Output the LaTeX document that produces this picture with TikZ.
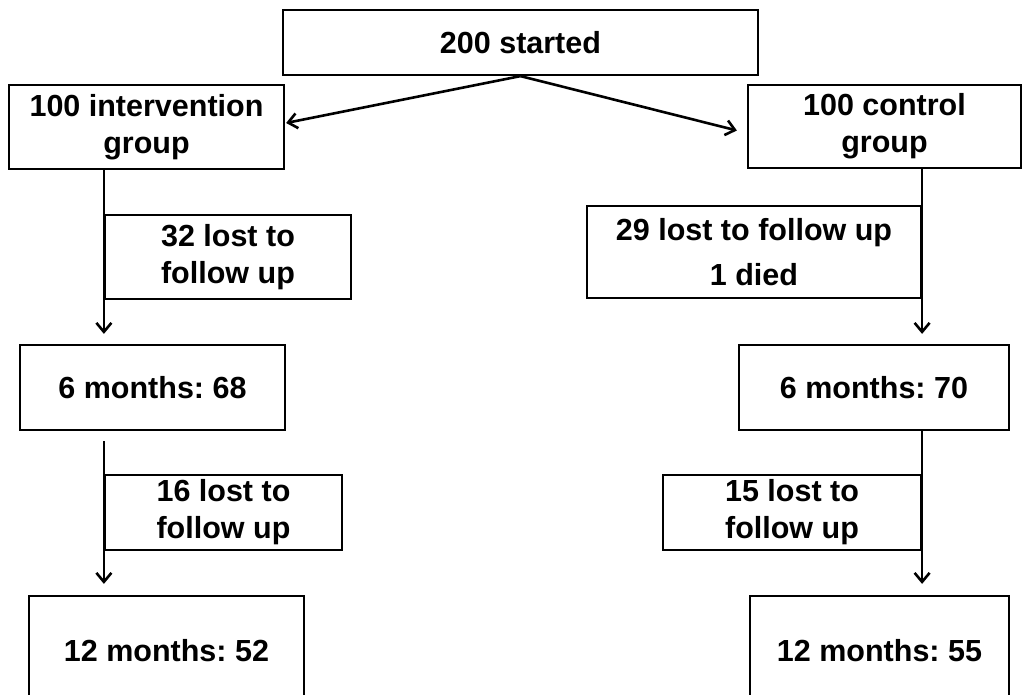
\documentclass[tikz,border=0pt]{standalone}
\usepackage{fontspec}
\setmainfont{Liberation Sans}
\usetikzlibrary{arrows.meta,calc}
\frenchspacing
\tikzset{
  box/.style={draw, line width=2.2pt, inner sep=0pt, align=center,
    font=\bfseries\fontsize{30.5}{37}\selectfont},
  conn/.style={line width=2.6pt, -{Straight Barb[length=9pt,width=15pt,line width=2.6pt]}}
}
\begin{document}
\begin{tikzpicture}[x=1pt,y=-1pt]
\useasboundingbox (0,0) rectangle (1023,695);
\clip (0,0) rectangle (1023,695);
\node[box, minimum width=475pt, minimum height=65pt] (top) at (520.5,42.5) {200 started};
\node[box, minimum width=275pt, minimum height=84pt] (int) at (146.5,127) {100 intervention\\group};
\node[box, minimum width=273pt, minimum height=83pt] (ctl) at (884.5,126.5) {100 control\\group};
\node[box, minimum width=246pt, minimum height=84pt] (l1) at (228,257) {32 lost to\\follow up};
\node[box, minimum width=334pt, minimum height=92pt, font=\bfseries\fontsize{30.5}{45}\selectfont] (r1) at (754,252) {29 lost to follow up\\1 died};
\node[box, minimum width=265pt, minimum height=85pt] (l6) at (152.5,387.5) {6 months: 68};
\node[box, minimum width=270pt, minimum height=85pt] (r6) at (874,387.5) {6 months: 70};
\node[box, minimum width=237pt, minimum height=75pt] (l2) at (223.5,512.5) {16 lost to\\follow up};
\node[box, minimum width=258pt, minimum height=75pt] (r2) at (792,512.5) {15 lost to\\follow up};
\node[box, minimum width=275pt, minimum height=109pt] (l12) at (166.5,650.5) {12 months: 52};
\node[box, minimum width=259pt, minimum height=109pt] (r12) at (879.5,650.5) {12 months: 55};
\draw[conn] (top.south) -- ($(int.east)+(1,-4)$);
\draw[conn] (top.south) -- ($(ctl.west)+(-10,4)$);
\draw[conn] (l1.west |- int.south) -- ($(l1.west |- l6.north)+(0,-10)$);
\draw[conn] (r1.east |- ctl.south) -- ($(r1.east |- r6.north)+(0,-10)$);
\draw[conn] ($(l2.west |- l6.south)+(0,10)$) -- ($(l2.west |- l12.north)+(0,-11)$);
\draw[conn] (r2.east |- r6.south) -- ($(r2.east |- r12.north)+(0,-11)$);
\end{tikzpicture}
\end{document}
